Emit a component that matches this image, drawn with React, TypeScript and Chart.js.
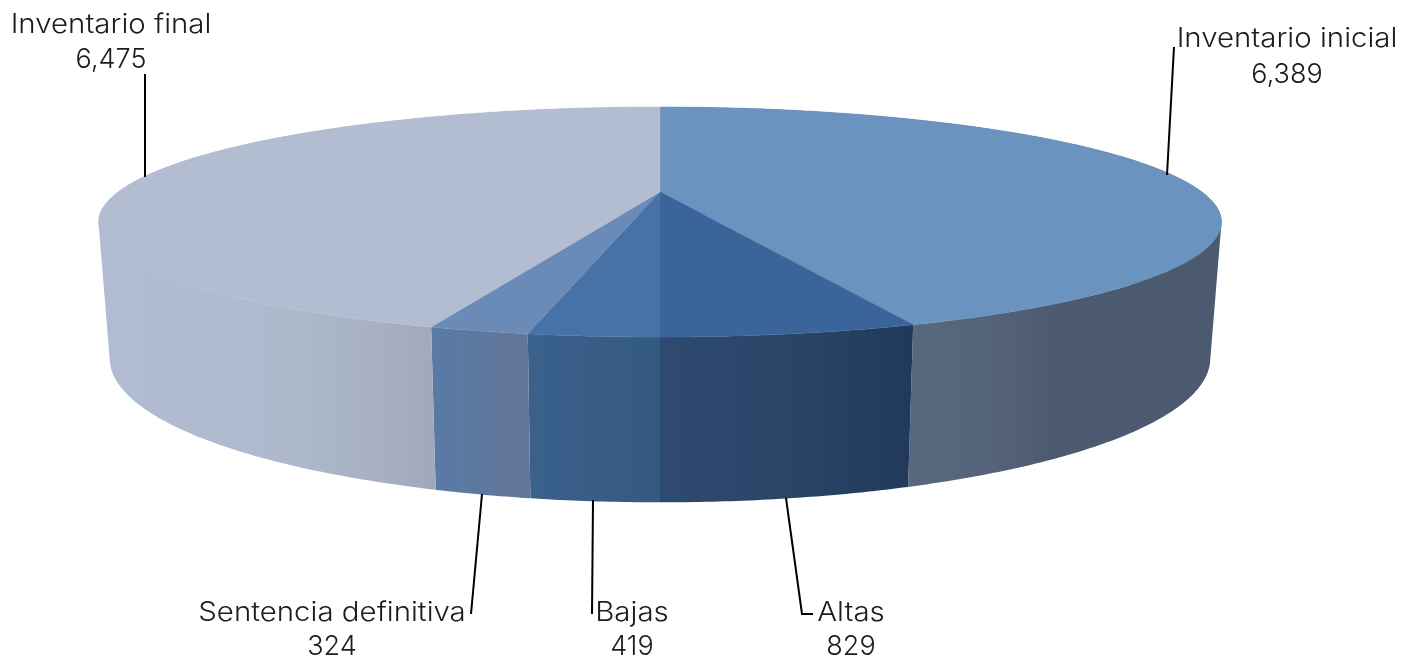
import React, { useEffect, useRef } from "react";
import { Chart, registerables } from "chart.js";

Chart.register(...registerables);

const categories = ["Inventario inicial", "Altas", "Bajas", "Sentencia definitiva", "Inventario final"];
const values = [6389, 829, 419, 324, 6475];

const topColors = ["#6b93bf", "#3b659a", "#4672a8", "#6a8ab8", "#b3bdd2"];
const wallStops: [number, string][][] = [
  [[908, "#58697f"], [1000, "#536277"], [1050, "#4d5b71"], [1210, "#4c5a70"]],
  [[660, "#2e4a70"], [800, "#2a4466"], [908, "#213a5b"]],
  [[530, "#3a608c"], [660, "#345a82"]],
  [[435, "#587aa5"], [500, "#60779c"], [530, "#62769a"]],
  [[108, "#b1bcd3"], [220, "#b0bbd0"], [300, "#adb8cb"], [380, "#a6b0c2"], [435, "#9fa9ba"]],
];

const FONT = '300 27px Inter, "DejaVu Sans", sans-serif';
const NAME_STRETCH = 1.09;

// Perspective of the disc
const CX = 660, CY = 192, RX = 542, RY = 107.2, K = 0.261;
const projTop = (a: number) => {
  const u = Math.cos(a), v = Math.sin(a), w = 1 / (1 - K * v);
  return [CX + RX * u * w, CY + RY * v * w];
};
const projBottom = (a: number) => {
  const [x, y] = projTop(a);
  return [CX + (x - CX) * 0.98, CY + 129 + (y - CY) * 1.25];
};

// Label layout: [center x, first baseline, second baseline], leader polyline
const labelLayout: { cx: number; y1: number; y2: number; line: [number, number][] }[] = [
  { cx: 1287, y1: 47, y2: 83, line: [[1174, 47], [1167, 175]] },
  { cx: 851, y1: 621, y2: 655, line: [[786, 498], [802, 614], [813, 614]] },
  { cx: 632, y1: 621, y2: 655, line: [[593, 500], [592, 614]] },
  { cx: 332, y1: 621, y2: 655, line: [[482, 494], [471, 614]] },
  { cx: 111, y1: 33, y2: 68, line: [[145, 74], [145, 177]] },
];

const pie3d = {
  id: "pie3d",
  beforeDatasetsDraw(chart: any) {
    const ctx = chart.ctx as CanvasRenderingContext2D;
    const arcs = chart.getDatasetMeta(0).data as any[];
    const STEP = Math.PI / 360;

    // walls
    arcs.forEach((arc, i) => {
      const { startAngle: a0, endAngle: a1 } = arc.getProps(["startAngle", "endAngle"], true);
      const stops = wallStops[i];
      const xa = stops[0][0], xb = stops[stops.length - 1][0];
      const g = ctx.createLinearGradient(xa, 0, xb, 0);
      stops.forEach(([x, c]) => g.addColorStop((x - xa) / (xb - xa), c));
      ctx.beginPath();
      for (let a = a0; a < a1; a += STEP) {
        const b = Math.min(a + STEP, a1);
        const quad = [projTop(a), projTop(b), projBottom(b), projBottom(a)];
        let area = 0;
        quad.forEach((p, j) => {
          const q = quad[(j + 1) % 4];
          area += p[0] * q[1] - q[0] * p[1];
        });
        if (area < 0) quad.reverse();
        quad.forEach((p, j) => (j ? ctx.lineTo(p[0], p[1]) : ctx.moveTo(p[0], p[1])));
        ctx.closePath();
      }
      ctx.fillStyle = g;
      ctx.fill();
    });

    // top face
    arcs.forEach((arc) => {
      const { startAngle: a0, endAngle: a1 } = arc.getProps(["startAngle", "endAngle"], true);
      ctx.beginPath();
      ctx.moveTo(CX, CY);
      for (let a = a0; a < a1; a += STEP) {
        const p = projTop(a);
        ctx.lineTo(p[0], p[1]);
      }
      const e = projTop(a1);
      ctx.lineTo(e[0], e[1]);
      ctx.closePath();
      ctx.fillStyle = arc.options.backgroundColor;
      ctx.strokeStyle = arc.options.backgroundColor;
      ctx.lineWidth = 0.5;
      ctx.fill();
      ctx.stroke();
    });

    // labels and leaders
    const labels = chart.data.labels as string[];
    const data = chart.data.datasets[0].data as number[];
    ctx.font = FONT;
    ctx.textAlign = "center";
    ctx.textBaseline = "alphabetic";
    ctx.fillStyle = "#1c1c1c";
    ctx.strokeStyle = "#000000";
    ctx.lineWidth = 2;
    labels.forEach((name, i) => {
      const l = labelLayout[i];
      ctx.save();
      ctx.translate(l.cx, l.y1);
      ctx.scale(NAME_STRETCH, 1);
      ctx.fillText(name, 0, 0);
      ctx.restore();
      ctx.fillText(data[i].toLocaleString("en-US"), l.cx, l.y2);
      ctx.beginPath();
      l.line.forEach(([x, y], j) => (j ? ctx.lineTo(x, y) : ctx.moveTo(x, y)));
      ctx.stroke();
    });
    return false;
  },
};

export default function App() {
  const ref = useRef<HTMLCanvasElement>(null);
  useEffect(() => {
    const chart = new Chart(ref.current!, {
      type: "pie",
      data: {
        labels: categories,
        datasets: [{ data: values, backgroundColor: topColors, borderWidth: 0 }],
      },
      options: {
        responsive: false,
        animation: false,
        plugins: { legend: { display: false }, tooltip: { enabled: false } },
      },
      plugins: [pie3d],
    } as any);
    return () => chart.destroy();
  }, []);
  return (
    <canvas
      ref={ref}
      width={1404}
      height={660}
      style={{ position: "fixed", left: 0, top: 0, width: 1404, height: 660, background: "#ffffff" }}
    />
  );
}
